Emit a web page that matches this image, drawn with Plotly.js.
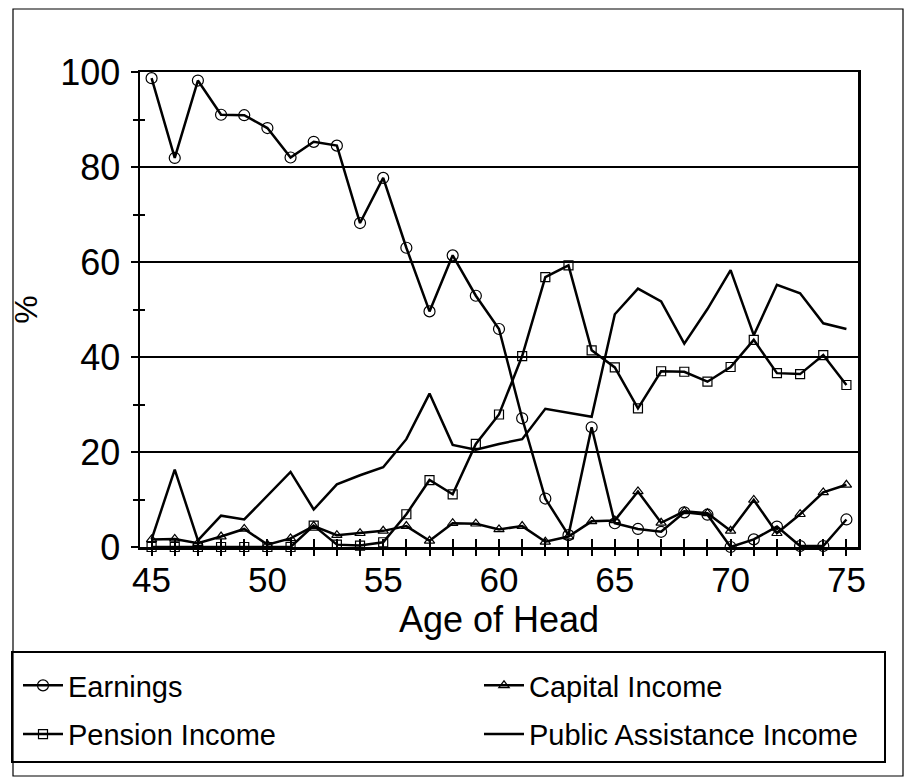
<!DOCTYPE html>
<html>
<head>
<meta charset="utf-8">
<script src="https://cdn.plot.ly/plotly-3.0.1.min.js"></script>
<style>html,body{margin:0;padding:0;background:#fff;}#chart{width:907px;height:779px;}</style>
</head>
<body>
<div id="chart"></div>
<script>
const ages = [45,46,47,48,49,50,51,52,53,54,55,56,57,58,59,60,61,62,63,64,65,66,67,68,69,70,71,72,73,74,75];
const earnings = [98.7,81.9,98.2,91.0,90.9,88.2,82.0,85.3,84.5,68.2,77.7,63.0,49.6,61.4,52.9,45.9,27.1,10.2,2.5,25.2,5.0,3.8,3.2,7.3,6.8,0.0,1.6,4.3,0.2,0.2,5.8];
const capitalIncome = [1.6,1.7,0.8,2.2,3.8,0.5,1.8,4.4,2.5,2.9,3.4,4.4,1.3,5.0,4.9,3.7,4.4,1.1,2.2,5.4,5.6,11.7,5.1,7.5,7.1,3.4,9.9,2.9,6.9,11.5,13.1];
const pensionIncome = [0,0,0,0,0,0,0,4.5,0.5,0.3,1.0,6.9,14.1,11.1,21.7,27.9,40.2,56.8,59.3,41.4,37.8,29.2,37.0,36.9,34.8,37.9,43.6,36.6,36.4,40.4,34.1];
const publicAssistance = [1.6,16.3,1.4,6.6,5.8,10.8,15.8,7.9,13.2,15.1,16.8,22.7,32.3,21.5,20.5,21.7,22.7,29.1,28.3,27.4,49.0,54.4,51.7,42.8,50.1,58.3,44.6,55.2,53.4,47.1,45.9];
const seriesNames = ["Earnings","Capital Income","Pension Income","Public Assistance Income"];
const xTitle = "Age of Head";
const yTitle = "%";

const FONT = "Liberation Sans, Arial, Helvetica, sans-serif";
const lineW = 2.5;

const traces = [
  {x: ages, y: earnings, name: seriesNames[0], legend: "legend", legendgroup: "g1", mode: "lines+markers", cliponaxis: false,
   line: {color: "black", width: lineW},
   marker: {symbol: "circle-open", size: 11, color: "black", line: {width: 1.2, color: "black"}}},
  {x: ages, y: capitalIncome, name: seriesNames[1], legend: "legend2", legendgroup: "g2", mode: "lines+markers", cliponaxis: false,
   line: {color: "black", width: lineW},
   marker: {symbol: "triangle-up-open", size: 9, color: "black", line: {width: 1.2, color: "black"}}},
  {x: ages, y: pensionIncome, name: seriesNames[2], legend: "legend", legendgroup: "g3", mode: "lines+markers", cliponaxis: false,
   line: {color: "black", width: lineW},
   marker: {symbol: "square-open", size: 9, color: "black", line: {width: 1.2, color: "black"}}},
  {x: ages, y: publicAssistance, name: seriesNames[3], legend: "legend2", legendgroup: "g4", mode: "lines", cliponaxis: false,
   line: {color: "black", width: lineW}},
  // invisible helper traces so the overlay axes (the two halves of the crossing ticks) are drawn
  {x: ages, y: earnings, xaxis: "x2", yaxis: "y2", mode: "none", showlegend: false, hoverinfo: "skip"},
  {x: ages, y: earnings, xaxis: "x3", yaxis: "y", mode: "none", showlegend: false, hoverinfo: "skip"}
];

const plotL = 140, plotR = 858, plotT = 72, plotB = 547;
const W = 907, H = 779;
const pw = plotR - plotL, ph = plotB - plotT;
const px = v => (v - plotL) / pw;
const py = v => (plotB - v) / ph;

const legendCommon = {
  xanchor: "left", yanchor: "top", borderwidth: 0, bgcolor: "rgba(0,0,0,0)",
  font: {size: 29, family: FONT, color: "black"},
  itemwidth: 40, traceorder: "grouped", tracegroupgap: 8, orientation: "v"
};

const xRange = [44.5, 75.5];

const layout = {
  width: W, height: H,
  margin: {l: plotL, r: W - plotR, t: plotT, b: H - plotB, pad: 0, autoexpand: false},
  paper_bgcolor: "white", plot_bgcolor: "white",
  font: {family: FONT, color: "black", size: 30},
  showlegend: true,
  xaxis: {
    range: xRange, tick0: 45, dtick: 5, ticks: "",
    showline: true, linecolor: "black", linewidth: 2.5, mirror: true, showgrid: false, zeroline: false,
    tickfont: {size: 35, family: FONT}, automargin: false
  },
  yaxis: {
    range: [0, 100], tick0: 0, dtick: 20, ticks: "outside", ticklen: 7, tickwidth: 2, tickcolor: "black",
    minor: {dtick: 10, tick0: 0, ticks: "outside", ticklen: 5, tickwidth: 2, tickcolor: "black", showgrid: false},
    showline: true, linecolor: "black", linewidth: 2.5, mirror: true,
    showgrid: true, gridcolor: "black", gridwidth: 1.6, zeroline: false,
    tickfont: {size: 36, family: FONT}, automargin: false, ticklabelstandoff: 3,
    title: {text: yTitle, font: {size: 32, family: FONT}, standoff: 13}
  },
  xaxis2: {range: xRange, overlaying: "x", anchor: "y2", side: "bottom", tick0: 45, dtick: 1,
    ticks: "inside", ticklen: 8, tickwidth: 2, tickcolor: "black", showticklabels: false,
    showline: false, showgrid: false, zeroline: false},
  xaxis3: {range: xRange, overlaying: "x", anchor: "y", side: "bottom", tick0: 45, dtick: 1,
    ticks: "outside", ticklen: 8, tickwidth: 2, tickcolor: "black", showticklabels: false,
    showline: false, showgrid: false, zeroline: false},
  yaxis2: {range: [0, 100], overlaying: "y", anchor: "x2", side: "left", tick0: 0, dtick: 10,
    ticks: "inside", ticklen: 5, tickwidth: 2, tickcolor: "black", showticklabels: false,
    showline: false, showgrid: false, zeroline: false},
  legend: Object.assign({}, legendCommon, {x: px(18), y: py(660)}),
  legend2: Object.assign({}, legendCommon, {x: px(479), y: py(660)}),
  annotations: [
    {text: xTitle, xref: "paper", yref: "paper", x: 0.5, y: py(619), xanchor: "center", yanchor: "middle",
     showarrow: false, font: {size: 36, family: FONT, color: "black"}}
  ],
  shapes: [
    {type: "rect", xref: "paper", yref: "paper", x0: px(13), x1: px(903), y0: py(776), y1: py(9),
     line: {color: "black", width: 1.2}, fillcolor: "rgba(0,0,0,0)", layer: "below"},
    {type: "rect", xref: "paper", yref: "paper", x0: px(12), x1: px(885), y0: py(762), y1: py(652),
     line: {color: "black", width: 2}, fillcolor: "rgba(0,0,0,0)", layer: "below"}
  ]
};

Plotly.newPlot("chart", traces, layout, {displayModeBar: false, staticPlot: true});
</script>
</body>
</html>
